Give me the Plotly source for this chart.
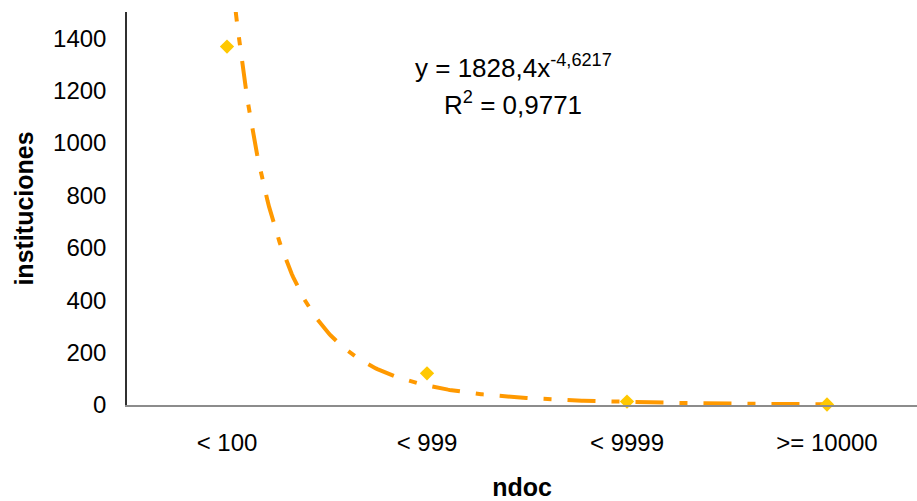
import numpy as np
import plotly.graph_objects as go

# Institutions per document-count band
categories = ["< 100", "< 999", "< 9999", ">= 10000"]
positions = [1, 2, 3, 4]
instituciones = [1368, 121, 13, 2]

# Power trendline coefficients (y = a * x^b)
coef_a = 1828.4
coef_b = -4.6217
r_squared = 0.9771

y_ticks = [0, 200, 400, 600, 800, 1000, 1200, 1400]

font_family = "Liberation Sans, Arial, sans-serif"

trend_x = np.linspace(1, 4, 400)
trend_y = coef_a * trend_x ** coef_b

fig = go.Figure()

fig.add_trace(go.Scatter(
    x=trend_x, y=trend_y, mode="lines",
    line=dict(color="#FF9900", width=4, dash="28px,16px,8px,16px"),
    hoverinfo="skip", showlegend=False,
))

fig.add_trace(go.Scatter(
    x=positions, y=instituciones, mode="markers",
    marker=dict(symbol="diamond", size=11, color="#FFC800"),
    showlegend=False, cliponaxis=False,
))

fig.update_layout(
    width=917, height=501,
    margin=dict(l=127, r=0, t=12, b=96),
    paper_bgcolor="white", plot_bgcolor="white",
    font=dict(family=font_family, size=24, color="black"),
    xaxis=dict(
        range=[0.5, 4.45],
        tickmode="array", tickvals=positions, ticktext=categories,
        showgrid=False, zeroline=False,
        showline=True, linecolor="#8c8c8c", linewidth=1.5,
        ticks="", ticklen=0, ticklabelstandoff=15,
        automargin=False,
        title=dict(text="<b>ndoc</b>", font=dict(size=25), standoff=27),
    ),
    yaxis=dict(
        range=[0, 1500],
        tickmode="array", tickvals=y_ticks,
        showgrid=False, zeroline=False,
        showline=True, linecolor="#303030", linewidth=1.5,
        ticks="", ticklen=0, ticklabelstandoff=14,
        automargin=False,
        title=dict(text="<b>instituciones</b>", font=dict(size=25), standoff=12),
    ),
    annotations=[
        dict(
            x=0.489, y=0.861, xref="paper", yref="paper",
            text="y = 1828,4x<sup>-4,6217</sup>", showarrow=False,
            font=dict(size=26), xanchor="center", yanchor="middle",
        ),
        dict(
            x=0.489, y=0.768, xref="paper", yref="paper",
            text=f"R<sup>2</sup> = {str(r_squared).replace('.', ',')}", showarrow=False,
            font=dict(size=26), xanchor="center", yanchor="middle",
        ),
    ],
)

fig.write_html("out.html")
